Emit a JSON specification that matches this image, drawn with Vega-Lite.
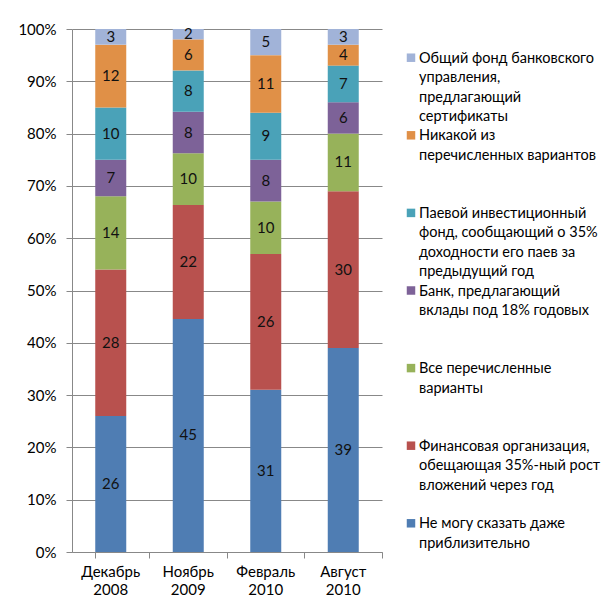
{
  "$schema": "https://vega.github.io/schema/vega-lite/v6.json",
  "padding": {"left": 17, "top": 22, "right": 0, "bottom": 0},
  "background": "white",
  "config": {
    "font": "Lato",
    "view": {"stroke": null},
    "axis": {"labelFont": "Lato", "labelFontSize": 15, "labelColor": "#000000", "domainColor": "#888888", "tickColor": "#888888", "gridColor": "#888888", "title": null}
  },
  "datasets": {
    "series": [
      {"series": "Не могу сказать даже приблизительно", "label": "Не могу сказать даже\nприблизительно", "idx": 1},
      {"series": "Финансовая организация, обещающая 35%-ный рост вложений через год", "label": "Финансовая организация,\nобещающая 35%-ный рост\nвложений через год", "idx": 2},
      {"series": "Все перечисленные варианты", "label": "Все перечисленные\nварианты", "idx": 3},
      {"series": "Банк, предлагающий вклады под 18% годовых", "label": " Банк, предлагающий\nвклады под 18% годовых", "idx": 4},
      {"series": "Паевой инвестиционный фонд, сообщающий о 35% доходности его паев за предыдущий год", "label": "Паевой инвестиционный\nфонд, сообщающий о 35%\nдоходности его паев за\nпредыдущий год", "idx": 5},
      {"series": "Никакой из перечисленных вариантов", "label": "Никакой из\nперечисленных вариантов", "idx": 6},
      {"series": "Общий фонд банковского управления, предлагающий сертификаты", "label": "Общий фонд банковского\nуправления,\nпредлагающий\nсертификаты", "idx": 7}
    ],
    "answers": [
      {"period": "Декабрь 2008", "series": "Не могу сказать даже приблизительно", "value": 26},
      {"period": "Декабрь 2008", "series": "Финансовая организация, обещающая 35%-ный рост вложений через год", "value": 28},
      {"period": "Декабрь 2008", "series": "Все перечисленные варианты", "value": 14},
      {"period": "Декабрь 2008", "series": "Банк, предлагающий вклады под 18% годовых", "value": 7},
      {"period": "Декабрь 2008", "series": "Паевой инвестиционный фонд, сообщающий о 35% доходности его паев за предыдущий год", "value": 10},
      {"period": "Декабрь 2008", "series": "Никакой из перечисленных вариантов", "value": 12},
      {"period": "Декабрь 2008", "series": "Общий фонд банковского управления, предлагающий сертификаты", "value": 3},
      {"period": "Ноябрь 2009", "series": "Не могу сказать даже приблизительно", "value": 45},
      {"period": "Ноябрь 2009", "series": "Финансовая организация, обещающая 35%-ный рост вложений через год", "value": 22},
      {"period": "Ноябрь 2009", "series": "Все перечисленные варианты", "value": 10},
      {"period": "Ноябрь 2009", "series": "Банк, предлагающий вклады под 18% годовых", "value": 8},
      {"period": "Ноябрь 2009", "series": "Паевой инвестиционный фонд, сообщающий о 35% доходности его паев за предыдущий год", "value": 8},
      {"period": "Ноябрь 2009", "series": "Никакой из перечисленных вариантов", "value": 6},
      {"period": "Ноябрь 2009", "series": "Общий фонд банковского управления, предлагающий сертификаты", "value": 2},
      {"period": "Февраль 2010", "series": "Не могу сказать даже приблизительно", "value": 31},
      {"period": "Февраль 2010", "series": "Финансовая организация, обещающая 35%-ный рост вложений через год", "value": 26},
      {"period": "Февраль 2010", "series": "Все перечисленные варианты", "value": 10},
      {"period": "Февраль 2010", "series": "Банк, предлагающий вклады под 18% годовых", "value": 8},
      {"period": "Февраль 2010", "series": "Паевой инвестиционный фонд, сообщающий о 35% доходности его паев за предыдущий год", "value": 9},
      {"period": "Февраль 2010", "series": "Никакой из перечисленных вариантов", "value": 11},
      {"period": "Февраль 2010", "series": "Общий фонд банковского управления, предлагающий сертификаты", "value": 5},
      {"period": "Август 2010", "series": "Не могу сказать даже приблизительно", "value": 39},
      {"period": "Август 2010", "series": "Финансовая организация, обещающая 35%-ный рост вложений через год", "value": 30},
      {"period": "Август 2010", "series": "Все перечисленные варианты", "value": 11},
      {"period": "Август 2010", "series": "Банк, предлагающий вклады под 18% годовых", "value": 6},
      {"period": "Август 2010", "series": "Паевой инвестиционный фонд, сообщающий о 35% доходности его паев за предыдущий год", "value": 7},
      {"period": "Август 2010", "series": "Никакой из перечисленных вариантов", "value": 4},
      {"period": "Август 2010", "series": "Общий фонд банковского управления, предлагающий сертификаты", "value": 3}
    ]
  },
  "hconcat": [
    {
      "width": 310,
      "height": 523,
      "data": {"name": "answers"},
      "transform": [
        {"lookup": "series", "from": {"data": {"name": "series"}, "key": "series", "fields": ["idx"]}},
        {"stack": "value", "groupby": ["period"], "sort": [{"field": "idx", "order": "ascending"}], "offset": "normalize", "as": ["y0", "y1"]},
        {"calculate": "(datum.y0 + datum.y1) / 2", "as": "ymid"}
      ],
      "encoding": {
        "x": {
          "field": "period",
          "type": "nominal",
          "sort": ["Декабрь 2008", "Ноябрь 2009", "Февраль 2010", "Август 2010"],
          "scale": {"paddingInner": 0.6, "paddingOuter": 0.3},
          "axis": {"title": null, "labelAngle": 0, "labelExpr": "split(datum.label, ' ')", "labelLineHeight": 18, "labelPadding": 6, "tickSize": 6, "bandPosition": 1.75, "tickExtra": true}
        }
      },
      "layer": [
        {
          "mark": {"type": "bar"},
          "encoding": {
            "y": {"field": "y0", "type": "quantitative", "scale": {"domain": [0, 1]}, "axis": {"title": null, "values": [0, 0.1, 0.2, 0.3, 0.4, 0.5, 0.6, 0.7, 0.8, 0.9, 1], "format": "%", "tickSize": 6, "labelPadding": 10, "grid": true}},
            "y2": {"field": "y1"},
            "color": {
              "field": "series",
              "type": "nominal",
              "scale": {
                "domain": [
                  "Не могу сказать даже приблизительно",
                  "Финансовая организация, обещающая 35%-ный рост вложений через год",
                  "Все перечисленные варианты",
                  "Банк, предлагающий вклады под 18% годовых",
                  "Паевой инвестиционный фонд, сообщающий о 35% доходности его паев за предыдущий год",
                  "Никакой из перечисленных вариантов",
                  "Общий фонд банковского управления, предлагающий сертификаты"
                ],
                "range": ["#4F7DB3", "#B8514E", "#97B25A", "#7D6298", "#4AA2B8", "#E09047", "#A1B3D8"]
              },
              "legend": null
            }
          }
        },
        {
          "mark": {"type": "text", "fontSize": 15, "color": "#111111", "baseline": "middle"},
          "encoding": {
            "y": {"field": "ymid", "type": "quantitative"},
            "text": {"field": "value", "type": "quantitative"}
          }
        }
      ]
    },
    {
      "width": 180,
      "height": 523,
      "data": {"name": "series"},
      "encoding": {
        "y": {"field": "idx", "type": "ordinal", "sort": "descending", "scale": {"type": "point", "padding": 0.37}, "axis": null},
        "x": {"datum": 0, "type": "quantitative", "scale": {"domain": [0, 1]}, "axis": null}
      },
      "layer": [
        {
          "mark": {"type": "square", "size": 72, "opacity": 1},
          "encoding": {
            "color": {"field": "series", "type": "nominal", "legend": null}
          }
        },
        {
          "mark": {"type": "text", "align": "left", "baseline": "alphabetic", "dx": 8, "dy": 5, "lineBreak": "\n", "lineHeight": 19.5, "fontSize": 14.5, "color": "#000000"},
          "encoding": {"text": {"field": "label"}}
        }
      ]
    }
  ],
  "spacing": 23
}
